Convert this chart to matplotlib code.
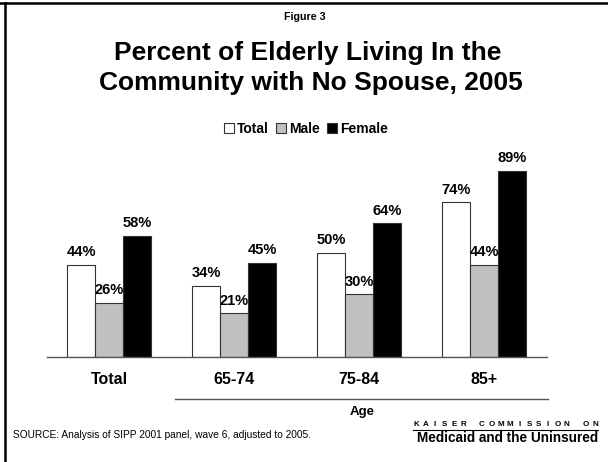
import matplotlib
matplotlib.use("Agg")
import matplotlib.pyplot as plt
from matplotlib.lines import Line2D
from matplotlib.patches import Patch
import numpy as np

plt.rcParams['font.family'] = ['Liberation Sans', 'DejaVu Sans']

categories = ["Total", "65-74", "75-84", "85+"]
series_names = ["Total", "Male", "Female"]
total_vals = [44, 34, 50, 74]
male_vals = [26, 21, 30, 44]
female_vals = [58, 45, 64, 89]
colors = ["#ffffff", "#c0c0c0", "#000000"]

W, H = 608, 462
fig = plt.figure(figsize=(W / 100, H / 100), dpi=100)
fig.patch.set_facecolor("white")

ax = fig.add_axes([46.7 / W, 105 / H, 500 / W, 209 / H])
x = np.arange(len(categories))
width = 0.224
all_vals = [total_vals, male_vals, female_vals]
for i, (vals, c, name) in enumerate(zip(all_vals, colors, series_names)):
    bars = ax.bar(x + (i - 1) * width, vals, width, color=c, edgecolor="#333333",
                  linewidth=0.8, label=name, zorder=2)
    for b, v in zip(bars, vals):
        ax.annotate(f"{v}%", (b.get_x() + b.get_width() / 2, v),
                    xytext=(0, 4), textcoords="offset points",
                    ha="center", va="bottom", fontsize=10.5, fontweight="bold", zorder=3)

ax.set_xlim(-0.5, 3.5)
ax.set_ylim(0, 100)
for s in ["top", "right", "left"]:
    ax.spines[s].set_visible(False)
ax.spines["bottom"].set_color("#555555")
ax.spines["bottom"].set_linewidth(1.0)
ax.set_yticks([])
ax.set_xticks(x)
ax.set_xticklabels(categories, fontsize=11.5, fontweight="bold")
ax.tick_params(axis="x", length=0, pad=11)
ax.patch.set_alpha(0)

# Age bracket line and label
fig.add_artist(Line2D([175 / W, 548 / W], [1 - 399 / H, 1 - 399 / H],
                      color="#555555", linewidth=1.0))
fig.text(362 / W, 1 - 412 / H, "Age", ha="center", va="center",
         fontsize=9.5, fontweight="bold")

# Titles
fig.text(305 / W, 1 - 17 / H, "Figure 3", ha="center", va="center",
         fontsize=7.7, fontweight="bold")
fig.text(308 / W, 1 - 60 / H, "Percent of Elderly Living In the",
         ha="center", va="baseline", fontsize=19, fontweight="bold")
fig.text(311 / W, 1 - 90 / H, "Community with No Spouse, 2005",
         ha="center", va="baseline", fontsize=19, fontweight="bold")

# Legend
handles = [Patch(facecolor=c, edgecolor="#333333", linewidth=0.8) for c in colors]
fig.legend(handles, series_names, loc="center", bbox_to_anchor=(306 / W, 1 - 129 / H),
           ncol=3, frameon=False, handlelength=0.75, handleheight=0.75,
           handletextpad=0.2, columnspacing=0.5, borderpad=0,
           prop={"weight": "bold", "size": 10})

# Source
fig.text(13 / W, 1 - 435 / H, "SOURCE: Analysis of SIPP 2001 panel, wave 6, adjusted to 2005.",
         ha="left", va="center", fontsize=7.3)

kaiser = "KAISER COMMISSION ON"
kx = np.linspace(416, 595, len(kaiser))
for ch, xx in zip(kaiser, kx):
    if ch != " ":
        fig.text(xx / W, 1 - 425 / H, ch, ha="center", va="center",
                 fontsize=5.8, fontweight="bold")
fig.add_artist(Line2D([413 / W, 598 / W], [1 - 429.5 / H, 1 - 429.5 / H],
                      color="black", linewidth=0.8))
fig.text(598 / W, 1 - 438.5 / H, "Medicaid and the Uninsured",
         ha="right", va="center", fontsize=9.8, fontweight="bold")

# Border lines
fig.add_artist(Line2D([0, 1], [1 - 3 / H, 1 - 3 / H], color="black", linewidth=1.8))
fig.add_artist(Line2D([5 / W, 5 / W], [0, 1 - 3 / H], color="black", linewidth=1.8))

fig.savefig("out.png", dpi=100, facecolor="white")
